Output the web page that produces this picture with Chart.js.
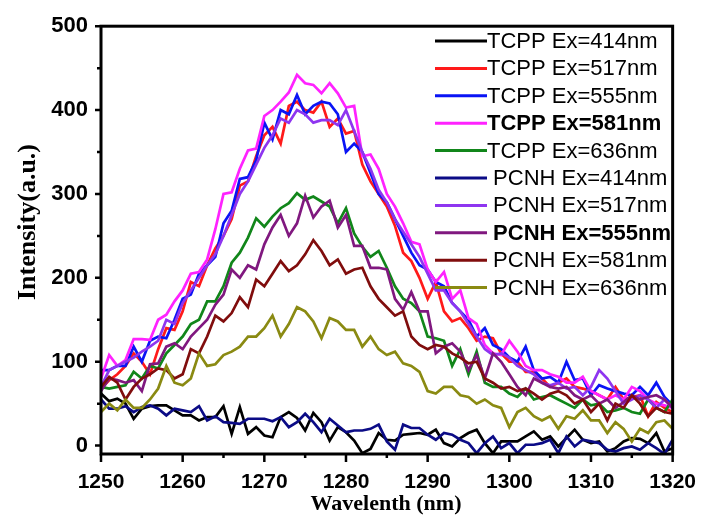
<!DOCTYPE html>
<html>
<head>
<meta charset="utf-8">
<script src="https://cdn.jsdelivr.net/npm/chart.js@4"></script>
<style>
html,body{margin:0;padding:0;background:#fff;}
canvas{display:block;}
</style>
</head>
<body>
<canvas id="c" width="712" height="519"></canvas>
<script>
const wavelengths = [1250,1251,1252,1253,1254,1255,1256,1257,1258,1259,1260,1261,1262,1263,1264,1265,1266,1267,1268,1269,1270,1271,1272,1273,1274,1275,1276,1277,1278,1279,1280,1281,1282,1283,1284,1285,1286,1287,1288,1289,1290,1291,1292,1293,1294,1295,1296,1297,1298,1299,1300,1301,1302,1303,1304,1305,1306,1307,1308,1309,1310,1311,1312,1313,1314,1315,1316,1317,1318,1319,1320];

const seriesLabels = ["TCPP Ex=414nm","TCPP Ex=517nm","TCPP Ex=555nm","TCPP Ex=581nm","TCPP Ex=636nm"," PCNH Ex=414nm"," PCNH Ex=517nm"," PCNH Ex=555nm"," PCNH Ex=581nm"," PCNH Ex=636nm"];
const seriesColors = ["#000000","#ff1a1a","#0a14f5","#ff22ff","#11861a","#0b0b86","#8e35f0","#80187f","#800d0d","#8a8a12"];
const boldLegend = [false,false,false,true,false,false,false,true,false,false];

const tcpp414 = [62,53,56,50,32,44,47,48,48,42, 36,36,30,34,34,47,14,46,14,22, 12,10,34,40,33,18,39,28,6,22, 16,6,-9,-4,15,7,6,13,14,15, 13,19,3,-1,9,15,19,3,-9,5, 5,5,11,17,7,11,-1,9,19,7, 3,5,-7,-3,5,9,8,3,15,-7, -3];
const tcpp517 = [68,78,85,95,110,100,85,115,140,138, 160,195,190,215,235,250,270,310,315,345, 370,380,360,405,410,400,397,410,380,390, 372,375,335,315,300,285,262,230,220,200, 175,195,160,148,152,140,125,130,128,110, 100,100,88,88,80,70,75,80,70,68, 65,60,55,70,55,58,60,35,52,45, 40];
const tcpp555 = [90,90,95,95,118,100,125,130,128,150, 175,180,205,215,225,265,280,318,320,340, 385,365,400,395,418,395,405,410,408,395, 350,360,350,325,300,290,270,250,230,215, 210,195,190,170,160,150,130,140,120,115, 105,100,118,90,80,82,75,100,78,80, 60,72,68,65,62,60,70,60,75,58, 48];
const tcpp581 = [80,108,95,102,127,127,126,150,156,172, 185,205,207,222,258,300,302,330,352,354, 393,400,410,421,442,432,430,420,432,420, 403,405,345,347,330,300,285,265,243,240, 210,195,207,175,185,152,145,120,110,108, 125,112,95,90,90,85,82,75,75,82, 65,60,55,60,55,70,65,55,50,48, 45];
const tcpp636 = [70,68,70,72,88,80,95,92,110,120, 130,145,150,172,172,190,218,230,248,271, 261,273,283,289,301,293,297,291,285,265, 283,253,237,225,232,212,190,175,170,160, 130,128,125,95,115,85,112,75,70,70, 62,58,68,55,58,60,55,50,45,55, 48,50,40,42,45,40,38,55,45,40, 55];
const pcnh414 = [55,44,44,47,40,46,48,44,36,44, 42,40,47,30,35,28,27,26,32,32, 32,29,34,22,28,38,28,16,32,24, 16,18,18,20,25,5,-5,25,21,21, 13,7,15,13,7,3,-9,3,11,-3, 3,-9,1,1,3,7,-9,11,-1,7, 5,3,-5,-7,-3,-1,-5,3,-3,-10, 7];
const pcnh517 = [70,90,95,100,105,112,118,125,150,145, 170,185,200,215,228,250,275,300,315,335, 355,370,390,385,400,395,385,388,388,382, 400,375,350,330,305,290,270,255,240,225, 205,185,185,170,160,145,130,115,108,110, 105,95,90,85,75,72,75,68,70,60, 70,90,80,65,50,55,60,55,45,55, 45];
const pcnh555 = [65,80,78,75,78,65,97,98,118,122, 115,130,140,150,168,180,210,200,215,210, 240,260,275,250,265,298,272,285,292,260, 275,238,238,212,212,210,175,162,183,160, 160,110,118,122,112,90,108,80,110,100, 85,70,60,80,75,70,68,70,60,55, 60,50,55,45,52,60,55,58,60,55, 45];
const pcnh581 = [70,82,75,55,70,80,85,92,90,80, 85,115,110,130,155,148,158,177,165,198, 190,205,220,208,215,228,245,232,215,222, 205,210,212,190,175,165,155,160,130,120, 115,120,118,110,105,98,100,80,75,68, 70,65,68,62,55,62,65,60,50,55, 40,50,30,50,45,60,50,35,45,40, 38];
const pcnh636 = [40,50,42,55,45,45,55,68,95,75, 72,80,110,95,97,108,112,118,130,130, 140,155,130,145,165,160,148,128,152,148, 138,138,118,130,115,108,112,98,95,88, 65,62,70,70,60,58,50,55,48,45, 22,40,45,35,30,35,20,35,32,42, 30,30,15,28,20,5,20,15,28,30, 20];

const allSeries = [tcpp414,tcpp517,tcpp555,tcpp581,tcpp636,pcnh414,pcnh517,pcnh555,pcnh581,pcnh636];

const xTickValues = [1250,1260,1270,1280,1290,1300,1310,1320];
const yTickValues = [0,100,200,300,400,500];
const xTitle = "Wavelenth (nm)";
const yTitle = "Intensity(a.u.)";

const datasets = allSeries.map((vals, i) => ({
  label: seriesLabels[i],
  data: vals.map((v, j) => ({x: wavelengths[j], y: v})),
  borderColor: seriesColors[i],
  backgroundColor: seriesColors[i],
  borderWidth: 2.7,
  pointRadius: 0,
  tension: 0,
  fill: false,
  order: allSeries.length - i
}));

const decor = {
  id: 'decor',
  afterDatasetsDraw(chart) {
    const ctx = chart.ctx;
    const a = chart.chartArea;
    const xs = chart.scales.x, ys = chart.scales.y;
    ctx.save();
    ctx.strokeStyle = '#000';
    ctx.lineWidth = 3;
    ctx.strokeRect(a.left, a.top, a.right - a.left, a.bottom - a.top);
    ctx.lineWidth = 2.5;
    ctx.beginPath();
    xTickValues.forEach((v, k) => {
      const px = xs.getPixelForValue(v);
      ctx.moveTo(px, a.bottom); ctx.lineTo(px, a.bottom + 8);
      if (k < xTickValues.length - 1) {
        const mp = xs.getPixelForValue((v + xTickValues[k + 1]) / 2);
        ctx.moveTo(mp, a.bottom); ctx.lineTo(mp, a.bottom + 4);
      }
    });
    yTickValues.forEach((v, k) => {
      const py = ys.getPixelForValue(v);
      ctx.moveTo(a.left, py); ctx.lineTo(a.left - 6, py);
      if (k < yTickValues.length - 1) {
        const mp = ys.getPixelForValue((v + yTickValues[k + 1]) / 2);
        ctx.moveTo(a.left, mp); ctx.lineTo(a.left - 4, mp);
      }
    });
    ctx.stroke();
    ctx.fillStyle = '#000';
    ctx.font = 'bold 22px "Liberation Serif", "Times New Roman", serif';
    ctx.textAlign = 'center';
    ctx.textBaseline = 'middle';
    ctx.fillText(xTitle, 386, 504);
    ctx.translate(28, 222);
    ctx.rotate(-Math.PI / 2);
    ctx.font = 'bold 26px "Liberation Serif", "Times New Roman", serif';
    ctx.fillText(yTitle, 0, 0);
    ctx.restore();
    ctx.save();
    ctx.textAlign = 'left';
    ctx.textBaseline = 'middle';
    chart.data.datasets.forEach((ds, i) => {
      const y = 41 + i * 27.4;
      ctx.strokeStyle = ds.borderColor;
      ctx.lineWidth = 3;
      ctx.beginPath();
      ctx.moveTo(435, y); ctx.lineTo(487, y);
      ctx.stroke();
      ctx.fillStyle = '#000';
      ctx.font = (boldLegend[i] ? 'bold ' : '') + '22px "Liberation Sans", Arial, sans-serif';
      ctx.fillText(ds.label, 487, y + 1);
    });
    ctx.restore();
  }
};

new Chart(document.getElementById('c'), {
  type: 'line',
  data: { datasets },
  options: {
    responsive: false,
    animation: false,
    events: [],
    layout: { padding: { top: 24, right: 26, left: 0, bottom: 0 } },
    plugins: { legend: { display: false }, tooltip: { enabled: false } },
    scales: {
      x: {
        type: 'linear',
        min: 1250, max: 1320,
        afterFit(s) { s.height = 65; },
        afterBuildTicks(s) { s.ticks = xTickValues.map(v => ({value: v})); },
        grid: { display: false, drawTicks: false },
        border: { display: false },
        ticks: {
          padding: 16,
          color: '#000',
          callback: v => String(v),
          font: { family: '"Liberation Sans", Arial, sans-serif', size: 21, weight: 'bold' },
          maxRotation: 0
        }
      },
      y: {
        type: 'linear',
        min: -10, max: 500,
        afterFit(s) { s.width = 101; },
        afterBuildTicks(s) { s.ticks = yTickValues.map(v => ({value: v})); },
        grid: { display: false, drawTicks: false },
        border: { display: false },
        ticks: {
          padding: 13,
          color: '#000',
          callback: v => String(v),
          font: { family: '"Liberation Sans", Arial, sans-serif', size: 22, weight: 'bold' }
        }
      }
    }
  },
  plugins: [decor]
});
</script>
</body>
</html>
